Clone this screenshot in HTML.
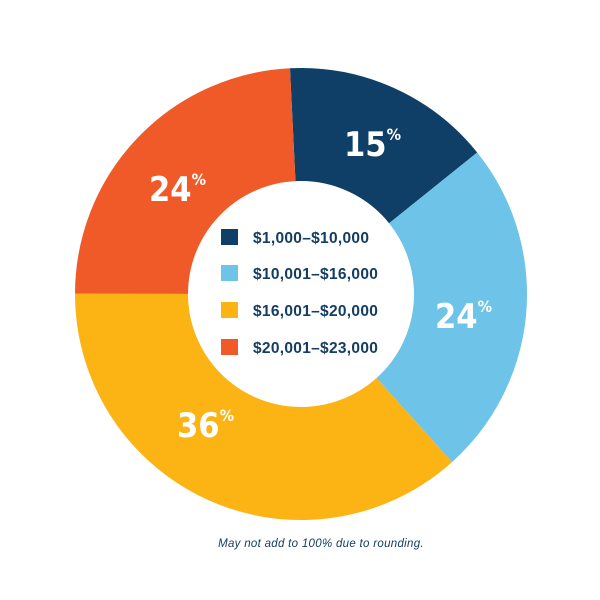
<!DOCTYPE html>
<html><head><meta charset="utf-8"><style>
body{margin:0;background:#fff;width:600px;height:600px;overflow:hidden}
svg{display:block}
.p{font-family:"DejaVu Sans Condensed","Liberation Sans",sans-serif;fill:#fff;font-size:34px;font-weight:bold}
.s{font-size:16px}
.l{font-family:"Liberation Sans",sans-serif;font-weight:bold;font-size:15.5px;fill:#143d63;letter-spacing:0.3px}
</style></head><body>
<svg width="600" height="600" viewBox="0 0 600 600">
<g transform="rotate(-92.8 301 294)" fill="none" stroke-width="113">
<circle cx="301" cy="294" r="169.5" stroke="#0f3f66" stroke-dasharray="159.75 1100" stroke-dashoffset="0"/>
<circle cx="301" cy="294" r="169.5" stroke="#6dc4e8" stroke-dasharray="256.8 1100" stroke-dashoffset="-159.75"/>
<circle cx="301" cy="294" r="169.5" stroke="#fbb414" stroke-dasharray="390.5 1100" stroke-dashoffset="-416.55"/>
<circle cx="301" cy="294" r="169.5" stroke="#ef5a28" stroke-dasharray="259 1100" stroke-dashoffset="-807.05"/>
</g>
<text class="p" x="344" y="156">15<tspan class="s" dy="-16">%</tspan></text>
<text class="p" x="149" y="201">24<tspan class="s" dy="-16">%</tspan></text>
<text class="p" x="435" y="328">24<tspan class="s" dy="-16">%</tspan></text>
<text class="p" x="177" y="437">36<tspan class="s" dy="-16">%</tspan></text>
<rect x="221" y="229" width="17" height="16" fill="#0f3f66"/>
<rect x="221" y="265" width="17" height="16" fill="#6dc4e8"/>
<rect x="221" y="302" width="17" height="16" fill="#fbb414"/>
<rect x="221" y="339" width="17" height="16" fill="#ef5a28"/>
<text class="l" x="253" y="243">$1,000–$10,000</text>
<text class="l" x="253" y="279">$10,001–$16,000</text>
<text class="l" x="253" y="316">$16,001–$20,000</text>
<text class="l" x="253" y="353">$20,001–$23,000</text>
<text x="321" y="547" text-anchor="middle" font-family="Liberation Sans,sans-serif" font-style="italic" font-size="11.5" letter-spacing="0.3" fill="#143d63">May not add to 100% due to rounding.</text>
</svg>
</body></html>
